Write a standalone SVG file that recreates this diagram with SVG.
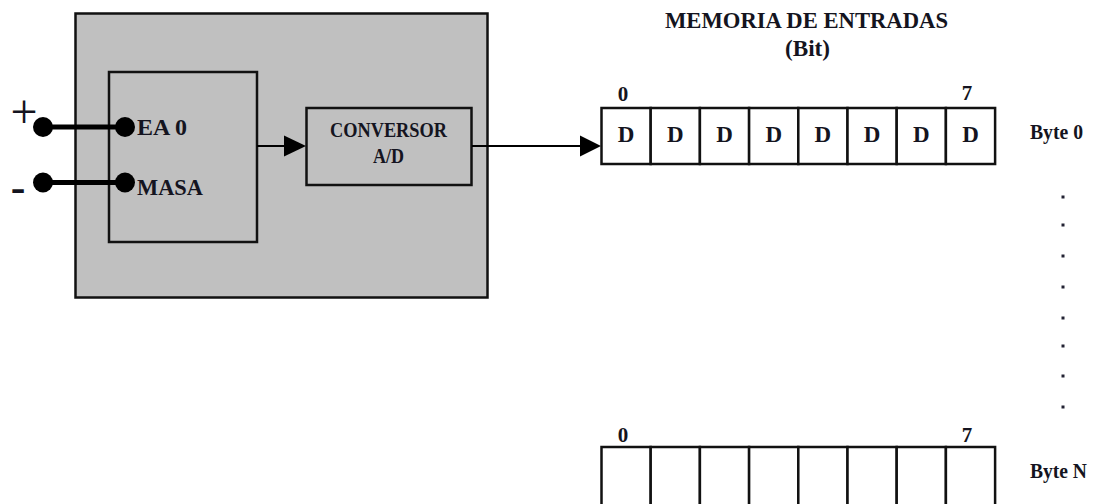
<svg xmlns="http://www.w3.org/2000/svg" width="1099" height="504" viewBox="0 0 1099 504">
<style>
  text { font-family: "Liberation Serif", "Times New Roman", serif; font-weight: bold; fill: #141420; }
  .box { fill: #c0c0c0; stroke: #111; stroke-width: 2.5; }
  .cell { fill: #fff; stroke: #111; stroke-width: 2.5; }
  .wire { stroke: #000; stroke-width: 5; fill: none; }
  .line { stroke: #000; stroke-width: 2; fill: none; }
  .dot { fill: #000; }
  .head { fill: #000; }
  .d { font-size: 23px; text-anchor: middle; }
  .idx { font-size: 21px; text-anchor: middle; }
  .byte { font-size: 21px; }
  .vdot { fill: #223; }
</style>
<rect width="1099" height="504" fill="#fff"/>
<g id="modulo">
  <rect class="box" x="75.5" y="13.5" width="412" height="284"/>
</g>
<g id="entradas">
  <rect class="box" x="109" y="72" width="148" height="170"/>
  <text x="137" y="135" style="font-size:24px" textLength="50" lengthAdjust="spacingAndGlyphs">EA 0</text>
  <text x="137" y="195" style="font-size:24px" textLength="66" lengthAdjust="spacingAndGlyphs">MASA</text>
</g>
<g id="conversor">
  <rect class="box" x="306.5" y="108" width="165" height="77"/>
  <text x="330" y="137" style="font-size:21px" textLength="117" lengthAdjust="spacingAndGlyphs">CONVERSOR</text>
  <text x="373" y="163" style="font-size:21px" textLength="31" lengthAdjust="spacingAndGlyphs">A/D</text>
</g>
<g id="terminales">
  <text x="24" y="128" text-anchor="middle" style="font-size:48px;font-weight:normal">+</text>
  <text x="18" y="202" text-anchor="middle" style="font-size:44px">-</text>
</g>
<g id="connectors">
  <line class="wire" x1="43" y1="127" x2="125" y2="127"/>
  <line class="wire" x1="43" y1="182.5" x2="125" y2="182.5"/>
  <circle class="dot" cx="43" cy="127" r="10"/>
  <circle class="dot" cx="125" cy="127" r="10"/>
  <circle class="dot" cx="43" cy="182.5" r="10"/>
  <circle class="dot" cx="125" cy="182.5" r="10"/>
  <line class="line" x1="257" y1="146" x2="290" y2="146"/>
  <polygon class="head" points="284,135.5 306,146 284,156.5"/>
  <line class="line" x1="472" y1="146" x2="585" y2="146"/>
  <polygon class="head" points="580,135.5 601,146 580,156.5"/>
</g>
<g id="memoria-titulo">
  <text x="665" y="28" style="font-size:24px" textLength="283" lengthAdjust="spacingAndGlyphs">MEMORIA DE ENTRADAS</text>
  <text x="785" y="56" style="font-size:24px" textLength="45" lengthAdjust="spacingAndGlyphs">(Bit)</text>
</g>
<g id="byte0">
  <text class="idx" x="623" y="101">0</text>
  <text class="idx" x="967" y="100">7</text>
  <rect class="cell" x="601.5" y="108" width="49.2" height="56"/>
  <rect class="cell" x="650.7" y="108" width="49.2" height="56"/>
  <rect class="cell" x="699.9" y="108" width="49.2" height="56"/>
  <rect class="cell" x="749.1" y="108" width="49.2" height="56"/>
  <rect class="cell" x="798.3" y="108" width="49.2" height="56"/>
  <rect class="cell" x="847.5" y="108" width="49.2" height="56"/>
  <rect class="cell" x="896.7" y="108" width="49.2" height="56"/>
  <rect class="cell" x="945.9" y="108" width="49.2" height="56"/>
  <text class="d" x="626.1" y="142">D</text>
  <text class="d" x="675.3" y="142">D</text>
  <text class="d" x="724.5" y="142">D</text>
  <text class="d" x="773.7" y="142">D</text>
  <text class="d" x="822.9" y="142">D</text>
  <text class="d" x="872.1" y="142">D</text>
  <text class="d" x="921.3" y="142">D</text>
  <text class="d" x="970.5" y="142">D</text>
  <text class="byte" x="1030" y="139" textLength="53" lengthAdjust="spacingAndGlyphs">Byte 0</text>
</g>
<g id="puntos">
  <rect class="vdot" x="1061.5" y="195.5" width="3" height="3"/>
  <rect class="vdot" x="1061.5" y="223.5" width="3" height="3"/>
  <rect class="vdot" x="1061.5" y="254.5" width="3" height="3"/>
  <rect class="vdot" x="1061.5" y="285.5" width="3" height="3"/>
  <rect class="vdot" x="1061.5" y="316.5" width="3" height="3"/>
  <rect class="vdot" x="1061.5" y="344.5" width="3" height="3"/>
  <rect class="vdot" x="1061.5" y="374.5" width="3" height="3"/>
  <rect class="vdot" x="1061.5" y="405.5" width="3" height="3"/>
</g>
<g id="byteN">
  <text class="idx" x="623" y="441.5">0</text>
  <text class="idx" x="967" y="441.5">7</text>
  <rect class="cell" x="601.5" y="447" width="49.2" height="60"/>
  <rect class="cell" x="650.7" y="447" width="49.2" height="60"/>
  <rect class="cell" x="699.9" y="447" width="49.2" height="60"/>
  <rect class="cell" x="749.1" y="447" width="49.2" height="60"/>
  <rect class="cell" x="798.3" y="447" width="49.2" height="60"/>
  <rect class="cell" x="847.5" y="447" width="49.2" height="60"/>
  <rect class="cell" x="896.7" y="447" width="49.2" height="60"/>
  <rect class="cell" x="945.9" y="447" width="49.2" height="60"/>
  <text class="byte" x="1030" y="478" textLength="57" lengthAdjust="spacingAndGlyphs">Byte N</text>
</g>
</svg>
